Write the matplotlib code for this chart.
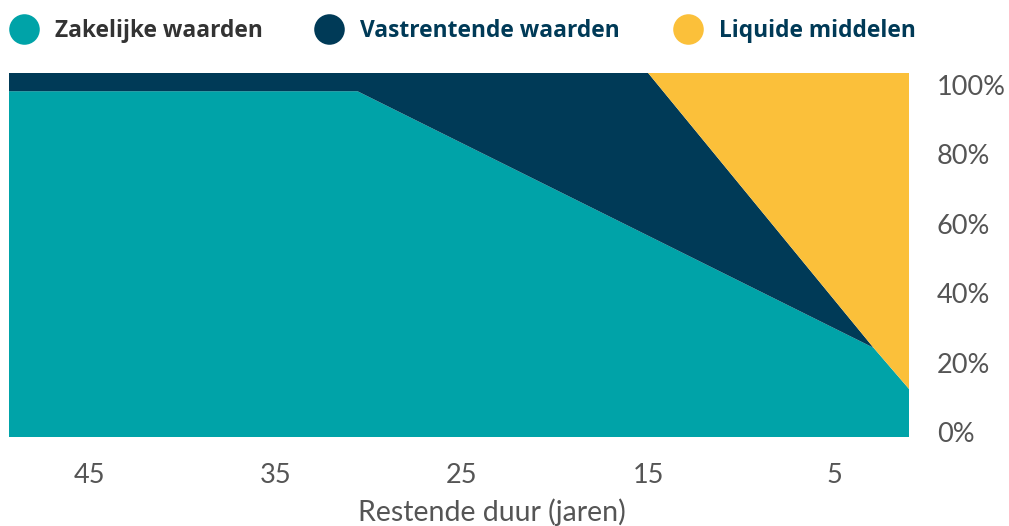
import numpy as np
import matplotlib
matplotlib.use("Agg")
import matplotlib.pyplot as plt
from matplotlib.lines import Line2D

# remaining years (reversed axis) and share per asset class, in %
years = [49.3, 30.6, 15.0, 2.9, 1.0]
zakelijk = [95.0, 95.0, 55.3, 24.5, 13.2]
vastrentend = [5.0, 5.0, 44.7, 0.0, 0.0]
liquide = [0.0, 0.0, 0.0, 75.5, 86.8]

labels = ["Zakelijke waarden", "Vastrentende waarden", "Liquide middelen"]
colors = ["#00A3A8", "#003A57", "#FBC03A"]
label_colors = ["#333333", "#003A57", "#003A57"]

x_ticks = [45, 35, 25, 15, 5]
y_ticks = [0, 20, 40, 60, 80, 100]

fig = plt.figure(figsize=(10.09, 5.26), dpi=100)
ax = fig.add_axes([9 / 1009, (526 - 437) / 526, 900 / 1009, 364 / 526])

ax.stackplot(years, zakelijk, vastrentend, liquide, colors=colors, linewidth=0)
ax.set_xlim(49.3, 1.0)
ax.set_ylim(0, 100)

ax.set_xticks(x_ticks)
ax.set_xticklabels([str(t) for t in x_ticks])
# the percentage labels sit on a slightly compressed scale in the original
ax.set_yticks([1.4 + 0.953 * v for v in y_ticks])
ax.set_yticklabels([f"{v}%" for v in y_ticks])
ax.yaxis.tick_right()

ax.tick_params(axis="both", length=0, labelsize=19.5, labelcolor="#555555")
ax.tick_params(axis="x", pad=19)
ax.tick_params(axis="y", pad=20)
for t in ax.get_xticklabels() + ax.get_yticklabels():
    t.set_family("Lato")
for s in ax.spines.values():
    s.set_visible(False)

fig.text(492 / 1009, 1 - 512 / 526, "Restende duur (jaren)", ha="center", va="center",
         fontsize=20.5, color="#555555", family="Lato")

# legend
circle_x = [24, 329, 688]
for cx, lab, c, lc in zip(circle_x, labels, colors, label_colors):
    fig.add_artist(Line2D([cx / 1009], [1 - 29 / 526], marker="o", markersize=22,
                          color=c, markeredgewidth=0, transform=fig.transFigure))
    fig.text((cx + 31) / 1009, 1 - 31 / 526, lab, ha="left", va="center",
             fontsize=16.4, fontweight="bold", color=lc, family="Open Sans")

fig.savefig("out.png", dpi=100)
